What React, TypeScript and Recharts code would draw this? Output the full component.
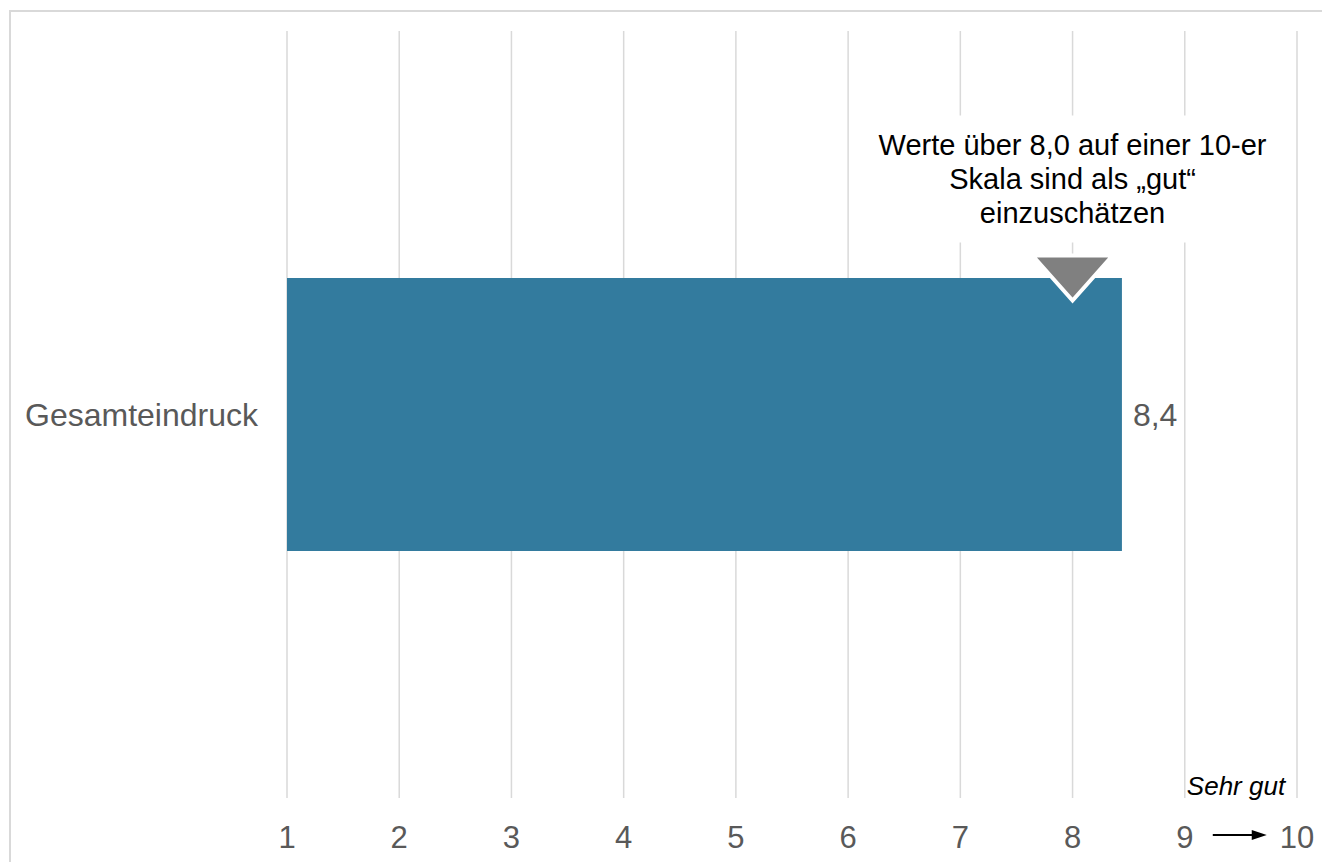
import React from "react";
import { BarChart, Bar, XAxis, YAxis, CartesianGrid, LabelList, ReferenceDot } from "recharts";

const categories = ["Gesamteindruck"];
const values = [8.44];
const xTicks = [1, 2, 3, 4, 5, 6, 7, 8, 9, 10];
const threshold = 8;
const noteLines = ["Werte über 8,0 auf einer 10-er", "Skala sind als „gut“", "einzuschätzen"];
const scaleEndLabel = "Sehr gut";

const data = categories.map((c, i) => ({ name: c, value: values[i] }));

const FONT = '"Liberation Sans", Arial, sans-serif';
const GREY = "#595959";

const XTick = (props: any) => {
  const { x, y, payload } = props;
  const v = payload.value;
  return (
    <g>
      <text x={x} y={y + 42} textAnchor="middle" fontSize={31} fill={GREY} fontFamily={FONT}>
        {String(v)}
      </text>
      {v === 9 && (
        <g>
          <line x1={x + 28} y1={y + 29} x2={x + 70} y2={y + 29} stroke="#000" strokeWidth={2} />
          <polygon points={`${x + 67},${y + 24} ${x + 82},${y + 29} ${x + 67},${y + 34}`} fill="#000" />
        </g>
      )}
      {v === 10 && (
        <text x={x - 61} y={y - 11} textAnchor="middle" fontSize={26} fontStyle="italic" fill="#000" fontFamily={FONT}>
          {scaleEndLabel}
        </text>
      )}
    </g>
  );
};

const YTick = (props: any) => {
  const { x, y, payload } = props;
  return (
    <text x={x - 21} y={y} dy={11.5} textAnchor="end" fontSize={32} fill={GREY} fontFamily={FONT}>
      {payload.value}
    </text>
  );
};

const NoteShape = (props: any) => {
  const { cx, cy } = props;
  const apexY = cy - 114;
  const topY = apexY - 45;
  const boxTop = apexY - 185;
  return (
    <g>
      <rect x={cx - 222} y={boxTop} width={445} height={127} fill="#fff" />
      {noteLines.map((t, i) => (
        <text key={i} x={cx} y={boxTop + 39 + i * 34} textAnchor="middle" fontSize={29} fill="#000" fontFamily={FONT}>
          {t}
        </text>
      ))}
      <polygon
        points={`${cx - 40},${topY} ${cx + 40},${topY} ${cx},${apexY}`}
        fill="#808080"
        stroke="#fff"
        strokeWidth={4}
        strokeLinejoin="miter"
      />
    </g>
  );
};

export default function App() {
  return (
    <div style={{ position: "absolute", left: 0, top: 0, width: 1322, height: 862, overflow: "hidden", background: "#fff" }}>
      <div
        style={{
          position: "absolute",
          left: 9,
          top: 10,
          width: 1400,
          height: 900,
          border: "2px solid #d9d9d9",
          boxSizing: "border-box",
        }}
      />
      <div style={{ position: "absolute", left: 0, top: 0 }}>
        <BarChart
          width={1322}
          height={862}
          data={data}
          layout="vertical"
          margin={{ top: 31, right: 25, bottom: 0, left: 0 }}
        >
          <CartesianGrid horizontal={false} vertical={true} stroke="#d9d9d9" strokeWidth={1.5} />
          <XAxis
            type="number"
            domain={[1, 10]}
            ticks={xTicks}
            axisLine={false}
            tickLine={false}
            tick={<XTick />}
            height={64}
            interval={0}
            allowDataOverflow
          />
          <YAxis type="category" dataKey="name" width={287} axisLine={false} tickLine={false} tick={<YTick />} />
          <Bar dataKey="value" fill="#337B9E" barSize={273} isAnimationActive={false}>
            <LabelList
              dataKey="value"
              position="right"
              offset={11}
              formatter={(v: any) => Number(v).toFixed(1).replace(".", ",")}
              fontSize={32}
              fill={GREY}
              fontFamily={FONT}
            />
          </Bar>
          <ReferenceDot x={threshold} y={categories[0]} ifOverflow="visible" shape={<NoteShape />} />
        </BarChart>
      </div>
    </div>
  );
}
